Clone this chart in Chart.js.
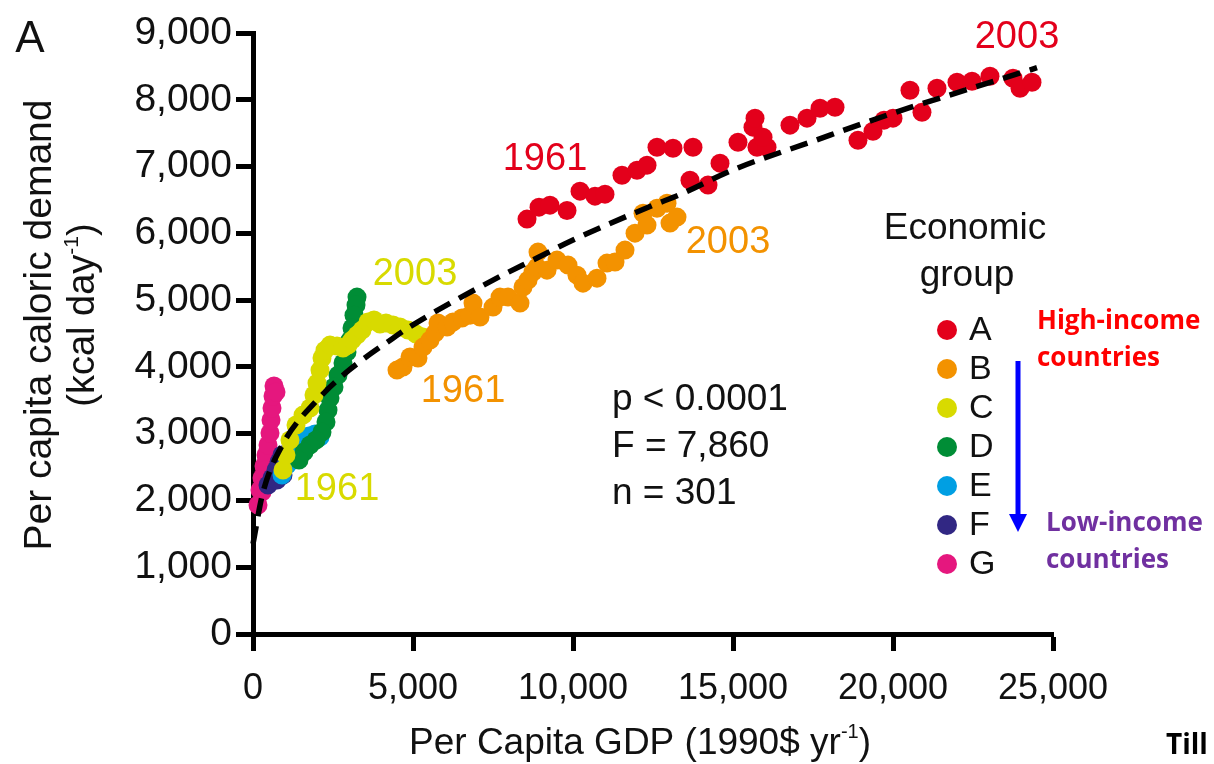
<!DOCTYPE html>
<html>
<head>
<meta charset="utf-8">
<title>Per capita caloric demand vs GDP</title>
<script src="https://cdn.jsdelivr.net/npm/chart.js@4.4.1/dist/chart.umd.min.js"></script>
<style>
  html, body { margin: 0; padding: 0; background: #fff; }
  #wrap { width: 1214px; height: 764px; position: relative; }
</style>
</head>
<body>
<div id="wrap"><canvas id="chart"></canvas></div>
<script>
// --- data (GDP in 1990$/yr, demand in kcal/day) ---
const groupNames = ['A', 'B', 'C', 'D', 'E', 'F', 'G'];
const groupColors = ['#e3001b', '#f39200', '#d8da00', '#008d36', '#009fe3', '#312783', '#e5177e'];

const gdpA  = [8563, 8938, 9281, 9813, 10219, 10688, 11000, 11531, 12000, 12313, 12625, 13125, 13750, 13656, 14219, 14594, 15156, 15625, 15688, 15750, 16063, 15938, 16781, 17313, 17719, 18188, 18906, 19375, 19719, 20000, 20531, 20906, 21375, 22000, 22469, 23031, 23750, 23969, 24344];
const kcalA = [6213, 6392, 6422, 6341, 6632, 6557, 6587, 6871, 6946, 7021, 7290, 7275, 7290, 6796, 6722, 7051, 7365, 7590, 7725, 7290, 7290, 7440, 7620, 7725, 7874, 7889, 7395, 7530, 7695, 7725, 8144, 7814, 8174, 8263, 8278, 8353, 8323, 8174, 8263];

const gdpB  = [4500, 4688, 4906, 5156, 5313, 5531, 5688, 5781, 6063, 6250, 6531, 6781, 6875, 7094, 7500, 7719, 7969, 8344, 8438, 8594, 8750, 8906, 8875, 9188, 9500, 9844, 10125, 10313, 10750, 11063, 11313, 11625, 11938, 12313, 12188, 12625, 12938, 13031, 13250];
const kcalB = [3952, 3997, 4147, 4132, 4296, 4401, 4506, 4656, 4596, 4671, 4731, 4775, 4955, 4746, 4895, 5045, 5045, 4955, 5195, 5299, 5419, 5719, 5494, 5449, 5599, 5524, 5374, 5254, 5329, 5554, 5569, 5749, 6003, 6123, 6302, 6377, 6452, 6153, 6243];

const gdpC  = [938, 1031, 1156, 1344, 1563, 1781, 1906, 2000, 2094, 2156, 2250, 2406, 2625, 2813, 2969, 3094, 3250, 3406, 3594, 3781, 3969, 4156, 4375, 4594, 4844, 5094, 5313];
const kcalC = [2455, 2680, 2904, 3129, 3278, 3383, 3578, 3757, 3952, 4132, 4251, 4326, 4311, 4281, 4326, 4401, 4476, 4551, 4671, 4701, 4641, 4656, 4626, 4596, 4551, 4491, 4446];

const gdpD  = [3250, 3219, 3156, 3094, 3031, 2938, 2813, 2656, 2531, 2406, 2344, 2281, 2156, 1969, 1781, 1594, 1438];
const kcalD = [5045, 4925, 4775, 4581, 4401, 4222, 4057, 3877, 3698, 3533, 3353, 3174, 3024, 2904, 2829, 2725, 2605];

const gdpE  = [906, 1063, 1219, 1375, 1563, 1750, 1938, 2094];
const kcalE = [2380, 2530, 2650, 2784, 2889, 2964, 2994, 2949];

const gdpF  = [469, 594, 719, 813, 906, 750, 938];
const kcalF = [2231, 2335, 2455, 2575, 2680, 2305, 2380];

const gdpG  = [156, 219, 281, 344, 406, 469, 531, 563, 594, 625, 656, 719, 281, 375];
const kcalG = [1931, 2156, 2335, 2515, 2680, 2829, 3009, 3204, 3383, 3563, 3713, 3623, 2126, 2455];

// dashed fit curve
const fitGdp  = [0, 300, 940, 2000, 3000, 4375, 5000, 7500, 8875, 10000, 12500, 13340, 15000, 17500, 20000, 22500, 24500];
const fitKcal = [1350, 2100, 2850, 3500, 3950, 4430, 4630, 5300, 5630, 5900, 6420, 6580, 6950, 7380, 7800, 8180, 8480];

const xTicks = [0, 5000, 10000, 15000, 20000, 25000];
const yTicks = [0, 1000, 2000, 3000, 4000, 5000, 6000, 7000, 8000, 9000];

const gdpGroups  = [gdpA, gdpB, gdpC, gdpD, gdpE, gdpF, gdpG];
const kcalGroups = [kcalA, kcalB, kcalC, kcalD, kcalE, kcalF, kcalG];

const FONT = '"Liberation Sans", Arial, Helvetica, sans-serif';
const BOLD = '"Open Sans", "Noto Sans", sans-serif';

// build scatter datasets
const datasets = groupNames.map((name, i) => ({
  type: 'scatter',
  label: name,
  data: gdpGroups[i].map((g, j) => ({ x: g, y: kcalGroups[i][j] })),
  backgroundColor: groupColors[i],
  borderWidth: 0,
  pointRadius: 9.5,
  clip: false,
  order: 1
}));

datasets.push({
  type: 'line',
  label: 'fit',
  data: fitGdp.map((g, j) => ({ x: g, y: fitKcal[j] })),
  borderColor: '#000',
  borderWidth: 5.5,
  borderDash: [18, 10],
  pointRadius: 0,
  fill: false,
  cubicInterpolationMode: 'monotone',
  clip: false,
  order: 0
});

// draw a string with a superscript part: segments = [[text, isSup], ...]
function drawRich(c, segments, x, y, size, align) {
  const supSize = Math.round(size * 0.55);
  let total = 0;
  segments.forEach(([t, sup]) => {
    c.font = `${sup ? supSize : size}px ${FONT}`;
    total += c.measureText(t).width;
  });
  let cx = align === 'center' ? x - total / 2 : x;
  c.textAlign = 'left';
  c.textBaseline = 'middle';
  segments.forEach(([t, sup]) => {
    c.font = `${sup ? supSize : size}px ${FONT}`;
    c.fillText(t, cx, sup ? y - size * 0.3 : y);
    cx += c.measureText(t).width;
  });
}

const annotations = {
  id: 'annotations',
  afterDraw(chart) {
    const c = chart.ctx;
    c.save();

    // panel letter
    c.fillStyle = '#111';
    c.font = `44px ${FONT}`;
    c.textAlign = 'center';
    c.textBaseline = 'middle';
    c.fillText('A', 30, 40);

    // year labels
    const years = [
      ['1961', 545, 160, groupColors[0]],
      ['2003', 1017, 38, groupColors[0]],
      ['2003', 728, 243, groupColors[1]],
      ['1961', 463, 392, groupColors[1]],
      ['2003', 415, 275, groupColors[2]],
      ['1961', 337, 490, groupColors[2]]
    ];
    c.font = `38px ${FONT}`;
    years.forEach(([t, x, y, col]) => {
      c.fillStyle = col;
      c.fillText(t, x, y);
    });

    // statistics
    c.fillStyle = '#111';
    c.textAlign = 'left';
    c.font = `37px ${FONT}`;
    c.fillText('p < 0.0001', 612, 400);
    c.fillText('F = 7,860', 612, 447);
    c.fillText('n = 301', 612, 494);

    // axis titles
    drawRich(c, [['Per Capita GDP (1990$ yr', false], ['-1', true], [')', false]], 640, 744, 37, 'center');
    c.save();
    c.translate(40, 325);
    c.rotate(-Math.PI / 2);
    c.fillStyle = '#111';
    c.font = `39px ${FONT}`;
    c.textAlign = 'center';
    c.textBaseline = 'middle';
    c.fillText('Per capita caloric demand', 0, 0);
    c.restore();
    c.save();
    c.translate(84, 315);
    c.rotate(-Math.PI / 2);
    c.fillStyle = '#111';
    drawRich(c, [['(kcal day', false], ['-1', true], [')', false]], 0, 0, 38, 'center');
    c.restore();

    // legend
    c.fillStyle = '#111';
    c.textAlign = 'center';
    c.textBaseline = 'middle';
    c.font = `37px ${FONT}`;
    c.fillText('Economic', 965, 229);
    c.fillText('group', 967, 276);
    c.font = `34px ${FONT}`;
    groupNames.forEach((name, i) => {
      const y = 330 + i * 39;
      c.beginPath();
      c.arc(947, y, 10, 0, Math.PI * 2);
      c.fillStyle = groupColors[i];
      c.fill();
      c.fillStyle = '#111';
      c.textAlign = 'left';
      c.fillText(name, 969, y + 1);
    });

    // income arrow
    c.strokeStyle = '#0000ff';
    c.fillStyle = '#0000ff';
    c.lineWidth = 5;
    c.beginPath();
    c.moveTo(1018, 361);
    c.lineTo(1018, 516);
    c.stroke();
    c.beginPath();
    c.moveTo(1009, 514);
    c.lineTo(1027, 514);
    c.lineTo(1018, 532);
    c.closePath();
    c.fill();

    c.font = `bold 26px ${BOLD}`;
    c.textAlign = 'left';
    c.fillStyle = '#ff0000';
    c.fillText('High-income', 1037, 322);
    c.fillText('countries', 1037, 359);
    c.fillStyle = '#7030a0';
    c.fillText('Low-income', 1046, 524);
    c.fillText('countries', 1046, 561);

    c.fillStyle = '#000';
    c.font = `bold 28px ${BOLD}`;
    c.fillText('Till', 1166, 746);
    c.restore();
  }
};

const ctx = document.getElementById('chart').getContext('2d');
new Chart(ctx, {
  data: { datasets },
  options: {
    responsive: true,
    maintainAspectRatio: false,
    animation: false,
    layout: { padding: { left: 0, right: 161, top: 33, bottom: 0 } },
    plugins: {
      legend: { display: false },
      tooltip: { enabled: false }
    },
    scales: {
      x: {
        type: 'linear',
        min: 0,
        max: 25000,
        afterBuildTicks: axis => { axis.ticks = xTicks.map(v => ({ value: v })); },
        afterFit: axis => { axis.height = 130; },
        border: { display: true, width: 5, color: '#000' },
        grid: { drawOnChartArea: false, drawTicks: true, tickLength: 17, tickWidth: 5, tickColor: '#000' },
        ticks: {
          color: '#111',
          padding: 16,
          maxRotation: 0,
          font: { family: FONT, size: 36 },
          callback: v => v.toLocaleString('en-US')
        }
      },
      y: {
        type: 'linear',
        min: 0,
        max: 9000,
        afterBuildTicks: axis => { axis.ticks = yTicks.map(v => ({ value: v })); },
        afterFit: axis => { axis.width = 253; },
        border: { display: true, width: 5, color: '#000' },
        grid: { drawOnChartArea: false, drawTicks: true, tickLength: 17, tickWidth: 5, tickColor: '#000' },
        ticks: {
          color: '#111',
          padding: 4,
          font: { family: FONT, size: 39 },
          callback: v => v.toLocaleString('en-US')
        }
      }
    }
  },
  plugins: [annotations]
});
</script>
</body>
</html>
